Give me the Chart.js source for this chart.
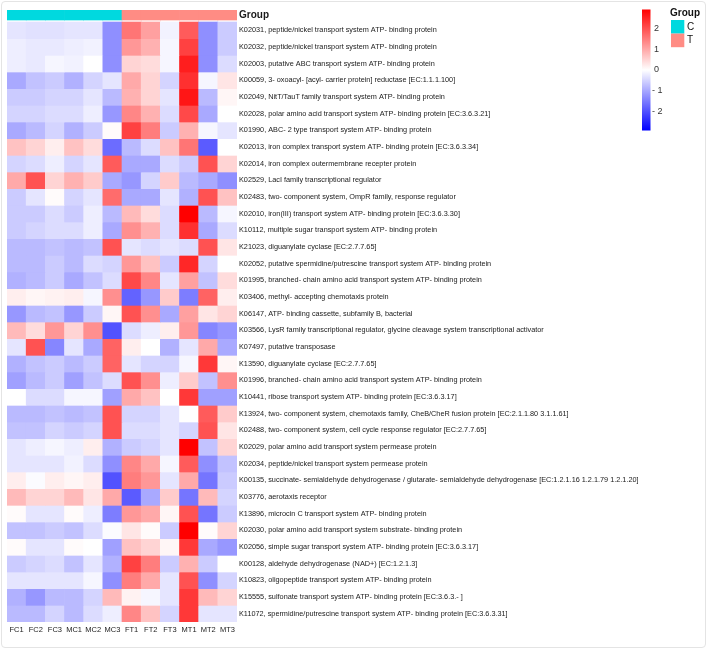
<!DOCTYPE html>
<html>
<head>
<meta charset="utf-8">
<title>Heatmap</title>
<script src="https://cdn.jsdelivr.net/npm/chart.js@4.4.1/dist/chart.umd.min.js"></script>
<style>
    body { margin: 0; background: #ffffff; }
    .frame {
        position: absolute; left: 1px; top: 1px; width: 703px; height: 645px;
        border: 1px solid #e4e4e4; border-radius: 4px;
    }
    #heatmap { position: absolute; left: 0; top: 0; }
</style>
</head>
<body>
<div class="frame"></div>
<canvas id="heatmap" width="707" height="650"></canvas>
<script>
// Samples (columns) and their group
const samples = ['FC1', 'FC2', 'FC3', 'MC1', 'MC2', 'MC3', 'FT1', 'FT2', 'FT3', 'MT1', 'MT2', 'MT3'];
const sampleGroups = ['C', 'C', 'C', 'C', 'C', 'C', 'T', 'T', 'T', 'T', 'T', 'T'];
const groupNames = ['C', 'T'];
const groupColors = ['#00D9DF', '#FF8C84'];

// KEGG orthologs (rows)
const kos = [
    'K02031, peptide/nickel transport system ATP- binding protein',
    'K02032, peptide/nickel transport system ATP- binding protein',
    'K02003, putative ABC transport system ATP- binding protein',
    'K00059, 3- oxoacyl- [acyl- carrier protein] reductase [EC:1.1.1.100]',
    'K02049, NitT/TauT family transport system ATP- binding protein',
    'K02028, polar amino acid transport system ATP- binding protein [EC:3.6.3.21]',
    'K01990, ABC- 2 type transport system ATP- binding protein',
    'K02013, iron complex transport system ATP- binding protein [EC:3.6.3.34]',
    'K02014, iron complex outermembrane recepter protein',
    'K02529, LacI family transcriptional regulator',
    'K02483, two- component system, OmpR family, response regulator',
    'K02010, iron(III) transport system ATP- binding protein [EC:3.6.3.30]',
    'K10112, multiple sugar transport system ATP- binding protein',
    'K21023, diguanylate cyclase [EC:2.7.7.65]',
    'K02052, putative spermidine/putrescine transport system ATP- binding protein',
    'K01995, branched- chain amino acid transport system ATP- binding protein',
    'K03406, methyl- accepting chemotaxis protein',
    'K06147, ATP- binding cassette, subfamily B, bacterial',
    'K03566, LysR family transcriptional regulator, glycine cleavage system transcriptional activator',
    'K07497, putative transposase',
    'K13590, diguanylate cyclase [EC:2.7.7.65]',
    'K01996, branched- chain amino acid transport system ATP- binding protein',
    'K10441, ribose transport system ATP- binding protein [EC:3.6.3.17]',
    'K13924, two- component system, chemotaxis family, CheB/CheR fusion protein [EC:2.1.1.80 3.1.1.61]',
    'K02488, two- component system, cell cycle response regulator [EC:2.7.7.65]',
    'K02029, polar amino acid transport system permease protein',
    'K02034, peptide/nickel transport system permease protein',
    'K00135, succinate- semialdehyde dehydrogenase / glutarate- semialdehyde dehydrogenase [EC:1.2.1.16 1.2.1.79 1.2.1.20]',
    'K03776, aerotaxis receptor',
    'K13896, microcin C transport system ATP- binding protein',
    'K02030, polar amino acid transport system substrate- binding protein',
    'K02056, simple sugar transport system ATP- binding protein [EC:3.6.3.17]',
    'K00128, aldehyde dehydrogenase (NAD+) [EC:1.2.1.3]',
    'K10823, oligopeptide transport system ATP- binding protein',
    'K15555, sulfonate transport system ATP- binding protein [EC:3.6.3.- ]',
    'K11072, spermidine/putrescine transport system ATP- binding protein [EC:3.6.3.31]'
];

// Row-scaled abundance (z-score), one row per KO, columns in sample order
const zscores = [
    [-0.3, -0.35, -0.35, -0.3, -0.3, -1.3, 1.6, 1.1, -0.15, 1.9, -1.3, -0.6],
    [-0.2, -0.25, -0.25, -0.2, -0.15, -1.3, 1.2, 0.9, -0.1, 2.2, -1.3, -0.6],
    [-0.2, -0.25, -0.1, -0.15, 0.0, -1.3, 0.5, 0.4, -0.1, 2.6, -1.3, -0.4],
    [-1.0, -0.7, -0.6, -0.9, -0.5, -0.3, 1.0, 0.5, -0.5, 2.4, -0.1, 0.3],
    [-0.6, -0.6, -0.5, -0.5, -0.3, -0.8, 0.9, 0.5, -0.3, 2.7, -0.8, 0.1],
    [-0.5, -0.5, -0.4, -0.4, -0.2, -1.2, 1.4, 0.9, -0.4, 2.1, -1.0, 0.0],
    [-1.0, -0.8, -0.5, -0.9, -0.6, 0.05, 2.2, 1.5, -0.6, 0.9, -0.1, -0.3],
    [0.7, 0.5, 0.2, 0.7, 0.4, -1.7, -0.8, -0.4, 0.7, 1.6, -1.9, 0.0],
    [-0.5, -0.4, -0.2, -0.5, -0.3, 1.9, -1.0, -1.0, -0.4, -0.6, 2.0, 0.5],
    [1.0, 2.0, 0.5, 0.9, 0.6, -1.0, -1.2, -0.5, 0.6, -0.8, -1.0, -1.3],
    [-0.6, -0.3, 0.05, -0.5, -0.3, 1.7, -1.0, -1.0, -0.3, -0.9, 2.0, 0.7],
    [-0.6, -0.6, -0.4, -0.6, -0.2, -0.8, 0.8, 0.4, -0.4, 2.95, -0.8, -0.1],
    [-0.6, -0.5, -0.4, -0.4, -0.2, -1.0, 1.3, 0.9, -0.4, 2.4, -1.0, -0.4],
    [-0.8, -0.8, -0.7, -0.8, -0.7, 2.0, -0.3, -0.4, -0.3, -0.4, 2.0, 0.3],
    [-0.8, -0.8, -0.6, -0.8, -0.4, -0.5, 1.2, 0.7, -0.6, 2.5, -0.5, 0.0],
    [-0.9, -0.8, -0.6, -1.0, -0.7, -0.4, 2.1, 1.4, -0.3, 1.1, -0.7, 0.4],
    [0.2, 0.1, 0.15, 0.2, -0.1, 1.3, -1.8, -1.2, 0.6, -1.5, 1.8, 0.2],
    [-1.2, -0.8, -0.7, -1.2, -0.6, 0.1, 2.0, 1.3, -1.0, 1.1, 0.3, 0.5],
    [0.8, 0.4, 1.2, 0.5, 1.3, -2.0, -0.4, -0.2, 0.2, 1.2, -1.4, -1.2],
    [-0.3, 2.0, -1.4, -0.3, -1.0, 1.8, 0.2, 0.0, -0.9, -0.3, 1.0, -1.0],
    [-0.9, -0.7, -0.6, -0.8, -0.6, 1.8, -0.3, -0.5, -0.5, -0.1, 2.3, 0.1],
    [-1.1, -0.8, -0.6, -1.1, -0.7, -0.4, 2.0, 1.3, -0.2, 0.6, -0.7, 1.3],
    [0.0, -0.4, -0.4, -0.1, -0.1, -1.1, 1.0, 0.7, 0.0, 2.3, -1.1, -1.1],
    [-0.8, -0.8, -0.7, -0.8, -0.7, 2.0, -0.5, -0.5, -0.3, 0.0, 1.9, 0.6],
    [-0.7, -0.7, -0.5, -0.6, -0.5, 2.0, -0.4, -0.4, -0.3, -0.5, 2.0, 0.3],
    [-0.3, -0.2, -0.1, -0.2, 0.2, -0.9, -0.6, -0.5, -0.3, 2.95, -0.7, 0.5],
    [-0.3, -0.3, -0.3, -0.15, -0.4, -1.3, 1.4, 1.0, -0.1, 1.9, -1.3, -0.7],
    [0.2, -0.05, 0.2, 0.1, 0.2, -2.0, 1.5, 1.2, -0.3, 1.0, -1.6, -0.6],
    [0.8, 0.5, 0.5, 0.8, 0.3, 1.0, -1.9, -1.0, 0.6, -1.6, 0.8, -0.5],
    [0.05, -0.3, -0.3, 0.05, -0.2, -1.5, 1.2, 1.0, 0.1, 2.0, -1.6, -0.6],
    [-0.7, -0.7, -0.6, -0.7, -0.4, -0.05, 0.3, 0.05, -0.6, 2.95, 0.05, 0.5],
    [0.05, -0.3, -0.3, 0.05, 0.0, -1.1, 0.7, 0.5, 0.1, 2.3, -1.0, -1.2],
    [-0.6, -0.5, -0.4, -0.7, -0.3, -0.9, 2.2, 1.5, -0.6, 0.9, -0.6, 0.0],
    [-0.3, -0.3, -0.3, -0.3, -0.1, -1.3, 1.5, 1.0, -0.3, 2.0, -1.3, -0.5],
    [-0.9, -1.2, -0.8, -0.8, -0.5, 0.8, 0.15, -0.1, -0.3, 2.3, 0.8, 0.5],
    [-0.8, -0.8, -0.5, -0.8, -0.4, -0.2, 1.4, 0.7, -0.5, 2.3, -0.3, -0.3]
];

// Colour key
const scaleLimit = 2.95;
const scaleTicks = [2, 1, 0, -1, -2];

const FONT = '"Liberation Sans", Arial, sans-serif';
const ANNOT_H = 0.6;   // height of the group strip, in row units
const GAP_H = 0.12;    // gap between strip and heatmap
const TOTAL_H = ANNOT_H + GAP_H + kos.length;

// blue - white - red ramp
function zColor(v) {
    const t = Math.min(Math.abs(v) / scaleLimit, 1);
    const c = Math.round(255 * (1 - t));
    return v >= 0 ? `rgb(255,${c},${c})` : `rgb(${c},${c},255)`;
}

function groupColor(g) {
    return groupColors[groupNames.indexOf(g)];
}

// Build stacked datasets: group strip, spacer, then one dataset per KO
function buildDatasets() {
    const sets = [];
    const annot = sampleGroups.map(groupColor);
    sets.push({ data: samples.map(() => ANNOT_H), backgroundColor: annot, borderColor: annot });
    sets.push({ data: samples.map(() => GAP_H), backgroundColor: 'rgba(0,0,0,0)', borderColor: 'rgba(0,0,0,0)', inflateAmount: 0 });
    zscores.forEach(row => {
        const cols = row.map(zColor);
        sets.push({ data: samples.map(() => 1), backgroundColor: cols, borderColor: cols });
    });
    return sets;
}

// Colour key and group legend on the right
const legendPlugin = {
    id: 'heatLegend',
    afterDraw(chart) {
        const ctx = chart.ctx;
        const x = 642, top = 9.5, bottom = 130.5, w = 8.5;
        const mid = (top + bottom) / 2;
        const unit = (bottom - top) / (2 * scaleLimit);

        const grad = ctx.createLinearGradient(0, top, 0, bottom);
        grad.addColorStop(0, zColor(scaleLimit));
        grad.addColorStop(0.5, zColor(0));
        grad.addColorStop(1, zColor(-scaleLimit));
        ctx.save();
        ctx.fillStyle = grad;
        ctx.fillRect(x, top, w, bottom - top);

        ctx.fillStyle = '#333333';
        ctx.font = '9px ' + FONT;
        ctx.textBaseline = 'middle';
        ctx.textAlign = 'left';
        scaleTicks.forEach(t => {
            const label = t < 0 ? '- ' + Math.abs(t) : String(t);
            ctx.fillText(label, t < 0 ? 652 : 654, mid - t * unit);
        });

        // group legend
        ctx.fillStyle = '#111111';
        ctx.font = 'bold 10px ' + FONT;
        ctx.fillText('Group', 670, 13.5);
        groupNames.forEach((g, i) => {
            const y = 20 + i * 13.6;
            ctx.fillStyle = groupColors[i];
            ctx.fillRect(671, y, 13.3, 13.6);
            ctx.fillStyle = '#111111';
            ctx.font = '10px ' + FONT;
            ctx.fillText(g, 687, y + 7);
        });
        ctx.restore();
    }
};

document.addEventListener('DOMContentLoaded', function() {
    const ctx = document.getElementById('heatmap').getContext('2d');
    new Chart(ctx, {
        type: 'bar',
        data: { labels: samples, datasets: buildDatasets() },
        options: {
            responsive: false,
            animation: false,
            devicePixelRatio: 1,
            layout: { padding: { left: 7, top: 10, right: 0, bottom: 0 } },
            datasets: { bar: { barPercentage: 1, categoryPercentage: 1, borderWidth: 0 } },
            plugins: { legend: { display: false }, tooltip: { enabled: false } },
            scales: {
                x: {
                    stacked: true,
                    grid: { display: false, drawTicks: false },
                    border: { display: false },
                    ticks: { color: '#1a1a1a', font: { family: FONT, size: 7.5 }, padding: 3, maxRotation: 0, autoSkip: false },
                    afterFit(scale) { scale.height = 28; }
                },
                y: {
                    stacked: true, reverse: true, min: 0, max: TOTAL_H, display: false
                },
                y2: {
                    type: 'linear', position: 'right', reverse: true, min: 0, max: TOTAL_H,
                    grid: { display: false, drawTicks: false },
                    border: { display: false },
                    afterBuildTicks(scale) {
                        const vals = [ANNOT_H / 2].concat(kos.map((k, i) => ANNOT_H + GAP_H + i + 0.5));
                        scale.ticks = vals.map(v => ({ value: v }));
                    },
                    afterFit(scale) { scale.width = 470; },
                    ticks: {
                        autoSkip: false,
                        padding: 2,
                        color: '#1a1a1a',
                        font: c => c.index === 0 ? { family: FONT, size: 10, weight: 'bold' } : { family: FONT, size: 7.3 },
                        callback: (v, i) => i === 0 ? 'Group' : kos[i - 1]
                    }
                }
            }
        },
        plugins: [legendPlugin]
    });
});
</script>
</body>
</html>
